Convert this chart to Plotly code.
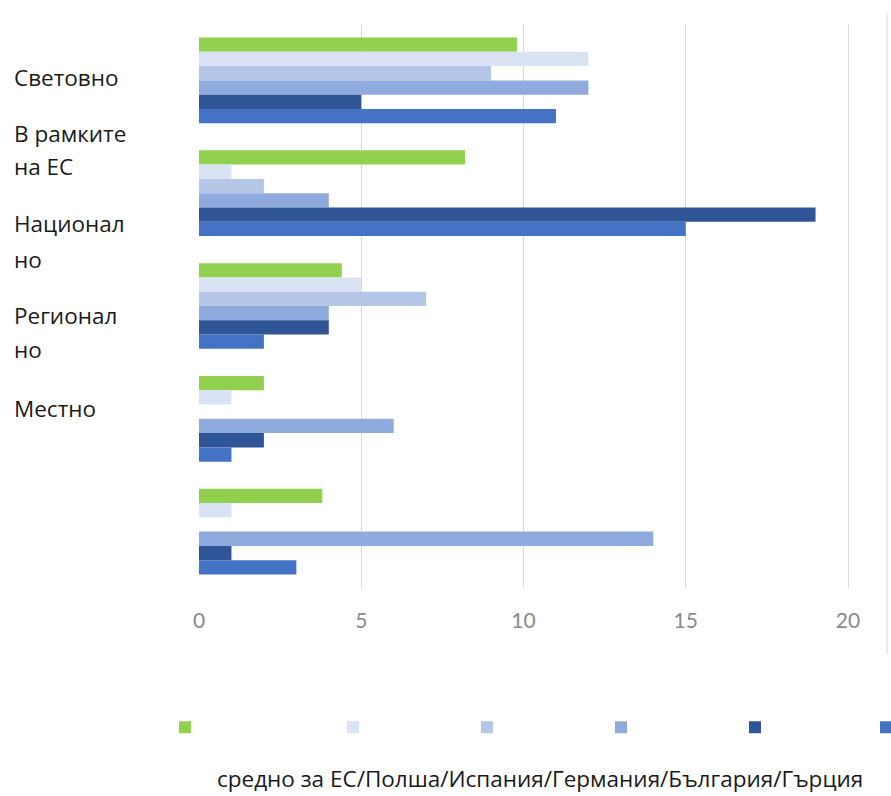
import plotly.graph_objects as go

# ---- data ----
categories = ["Световно", "В рамките на ЕС", "Национално", "Регионално", "Местно"]
label_lines = [["Световно"], ["В рамките", "на ЕС"], ["Национал", "но"], ["Регионал", "но"], ["Местно"]]
series_names = ["средно за ЕС", "Полша", "Испания", "Германия", "България", "Гърция"]
eu_avg   = [9.8, 8.2, 4.4, 2, 3.8]
poland   = [12, 1, 5, 1, 1]
spain    = [9, 2, 7, 0, 0]
germany  = [12, 4, 4, 6, 14]
bulgaria = [5, 19, 4, 2, 1]
greece   = [11, 15, 2, 1, 3]
series_values = [eu_avg, poland, spain, germany, bulgaria, greece]
colors = ["#92D050", "#DAE3F3", "#B4C7E7", "#8FAADC", "#2F5597", "#4472C4"]
x_ticks = [0, 5, 10, 15, 20]
footer = "средно за ЕС/Полша/Испания/Германия/България/Гърция"

W, H = 891, 796
L, R, T, B = 199, 0, 23.5, 207.5
plot_w = W - L - R
plot_h = H - T - B

def py(p):
    return (H - B - p) / plot_h

def px(p):
    return (p - L) / plot_w

legend_centers = [185, 353, 487, 621, 755, 886]
legend_ids = ["legend", "legend2", "legend3", "legend4", "legend5", "legend6"]

fig = go.Figure()
for i, (name, vals, col) in enumerate(zip(series_names, series_values, colors)):
    fig.add_trace(go.Bar(
        y=categories, x=vals, name=name, orientation="h",
        marker=dict(color=col, line=dict(width=0)),
        legend=legend_ids[i],
    ))

TXT_FONT = dict(family="Open Sans", size=22.5, color="#1a1a1a")

# left labels (as in the original, not aligned to groups)
line_y = [[77], [133, 166], [223, 259], [316, 350], [409]]
annotations = []
for lines, ys in zip(label_lines, line_y):
    for t, yy in zip(lines, ys):
        annotations.append(dict(text=t, x=px(12), xref="paper", xanchor="left",
                                y=py(yy), yref="paper", yanchor="middle",
                                showarrow=False, font=TXT_FONT))
# footer text
annotations.append(dict(text=footer, x=px(540), xref="paper", y=py(779), yref="paper",
                        xanchor="center", yanchor="middle", showarrow=False,
                        font=TXT_FONT))

layout_legends = {}
for lid, cx in zip(legend_ids, legend_centers):
    layout_legends[lid] = dict(orientation="h", x=px(cx - 20), xanchor="left",
                               y=py(728), yanchor="middle",
                               font=dict(size=8, color="rgba(0,0,0,0)"),
                               bgcolor="rgba(0,0,0,0)", borderwidth=0)

fig.update_layout(
    width=W, height=H,
    margin=dict(l=L, r=R, t=T, b=B, pad=0, autoexpand=False),
    paper_bgcolor="white", plot_bgcolor="white",
    barmode="group", bargap=0.24, bargroupgap=0,
    xaxis=dict(range=[0, plot_w / 32.45], tickvals=x_ticks,
               showgrid=True, gridcolor="#D9D9D9", gridwidth=1,
               zeroline=False, showline=False, ticks="",
               tickfont=dict(family="Lato", size=21, color="#8A8A8A"),
               ticklabelstandoff=18, fixedrange=True),
    yaxis=dict(autorange="reversed", showticklabels=False, showgrid=False,
               zeroline=False, showline=False, ticks=""),
    annotations=annotations,
    shapes=[dict(type="line", xref="paper", yref="paper",
                 x0=px(887), x1=px(887), y0=py(655), y1=py(12),
                 line=dict(color="#D9D9D9", width=1))],
    showlegend=True,
    **layout_legends,
)

fig.write_html("out.html", config={"displayModeBar": False},
               post_script="document.body.style.margin='0';")
